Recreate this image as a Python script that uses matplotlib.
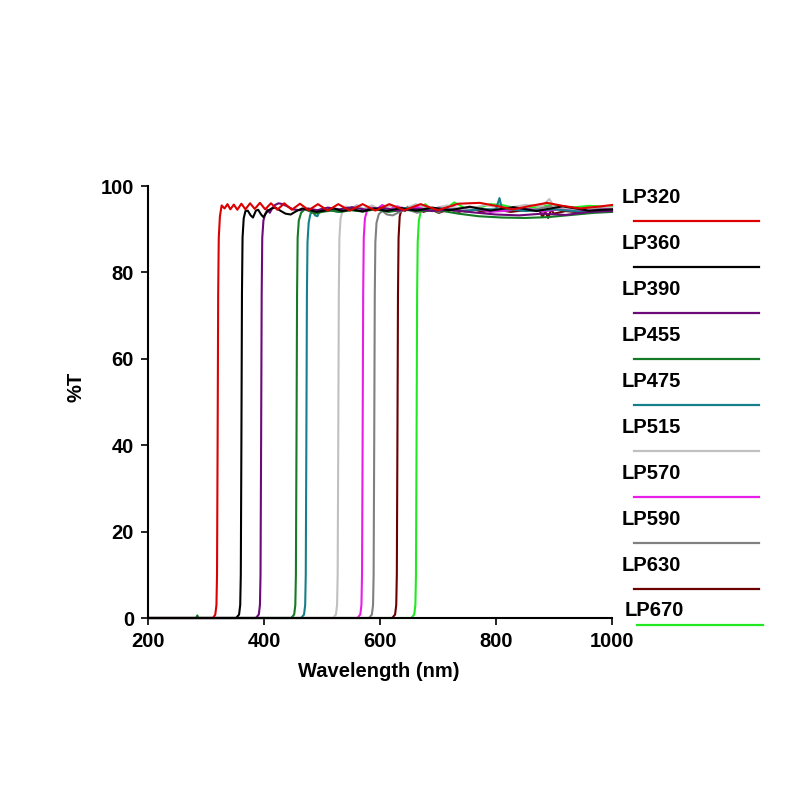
import matplotlib
matplotlib.use("Agg")
import matplotlib.pyplot as plt
from matplotlib.lines import Line2D

plt.rcParams['font.family'] = ['Liberation Sans', 'DejaVu Sans']
plt.rcParams['font.weight'] = 'bold'

# Curvas de transmision (nm, %T)
lp320 = [(200, 0), (312, 0), (316, 0.8), (318, 3), (319, 10), (320, 40), (321, 75), (322, 88), (324, 93),
         (327, 95.5), (332, 94.8), (337, 95.8), (342, 94.6), (348, 95.7), (354, 94.5), (361, 95.9), (368, 94.6),
         (376, 96), (384, 94.7), (393, 96.1), (402, 94.6), (412, 96), (423, 94.5), (435, 96), (448, 94.5),
         (462, 95.9), (477, 94.4), (493, 95.8), (510, 94.3), (528, 95.8), (548, 94.3), (570, 95.8), (592, 94.3),
         (616, 95.8), (642, 94.4), (670, 95.8), (700, 94.4), (735, 95.9), (772, 96.1), (800, 95.4), (829, 94.6),
         (860, 95.4), (888, 96.1), (915, 95.4), (945, 94.8), (975, 95.2), (1000, 95.6)]
lp360 = [(200, 0), (352, 0), (357, 0.8), (359, 3), (360, 10), (361, 40), (362, 75), (363, 88), (365, 92.5),
         (368, 94.2), (372, 94.3), (377, 93.2), (381, 92.7), (386, 94.3), (390, 94.5), (395, 93.4), (399, 92.8),
         (406, 94.2), (413, 94.8), (420, 95), (428, 94.3), (437, 93.6), (446, 93.4), (456, 94.2), (466, 94.8),
         (478, 94.5), (490, 94), (504, 94.3), (520, 94.8), (535, 94.2), (552, 94.6), (570, 94.1), (590, 94.8),
         (612, 94.2), (636, 94.9), (662, 94.3), (690, 95), (720, 94.4), (755, 95.2), (790, 94.3), (830, 95.1),
         (870, 94.2), (915, 95.3), (960, 94.3), (1000, 94.6)]
lp390 = [(200, 0), (386, 0), (391, 0.8), (393, 3), (394, 10), (395, 40), (396, 75), (397, 88), (399, 92),
         (402, 93.5), (406, 94.5), (410, 93.8), (414, 94.8), (419, 95.6), (425, 96), (432, 95.8), (440, 95.3),
         (450, 94.6), (462, 94.4), (476, 94.8), (492, 94.4), (510, 95), (530, 94.6), (552, 95.1), (576, 94.5),
         (602, 95), (630, 94.3), (660, 94.7), (690, 94.2), (720, 94.5), (760, 93.9), (800, 93.4), (840, 93.2),
         (880, 93.6), (920, 93.3), (960, 94), (1000, 94.2)]
lp455 = [(200, 0), (283, 0), (285, 0.6), (287, 0), (447, 0), (452, 0.8), (454, 3), (455, 10), (456, 40),
         (457, 75), (458, 88), (460, 92), (464, 93.8), (470, 94.6), (478, 94.2), (488, 93.6), (500, 94),
         (515, 94.3), (532, 94), (550, 94.4), (570, 94.1), (592, 94.6), (615, 94), (640, 94.5), (668, 94.2),
         (700, 94.4), (735, 93.6), (770, 93), (810, 92.7), (850, 92.6), (890, 92.8), (930, 93.3), (970, 93.8),
         (1000, 94)]
lp475 = [(200, 0), (464, 0), (469, 0.8), (471, 3), (472, 10), (473, 40), (474, 75), (475, 87), (477, 91.5),
         (480, 93.5), (484, 94.2), (488, 93.2), (492, 93), (497, 94.5), (502, 94.8), (508, 94.2), (516, 94.4),
         (528, 94), (545, 94.6), (565, 94.2), (590, 94.8), (615, 94.3), (645, 94.9), (675, 94.4), (705, 94.8),
         (740, 94.2), (775, 94.6), (800, 94.6), (806, 97.2), (810, 94.8), (850, 94.2), (900, 94.6), (950, 94),
         (1000, 94.4)]
lp515 = [(200, 0), (519, 0), (524, 0.8), (526, 3), (527, 10), (528, 40), (529, 75), (530, 88), (532, 92.5),
         (536, 94.5), (542, 95.3), (550, 94.6), (560, 95.6), (572, 94.7), (586, 95.5), (602, 94.4), (620, 95.5),
         (640, 94.6), (662, 95.8), (688, 94.5), (716, 95.5), (748, 94.5), (780, 95.6), (815, 94.8), (850, 95.6),
         (880, 95.4), (892, 97), (900, 95.2), (940, 94.6), (980, 95.3), (1000, 95)]
lp570 = [(200, 0), (561, 0), (566, 0.8), (568, 3), (569, 10), (570, 40), (571, 75), (572, 88), (574, 92.5),
         (578, 94.5), (585, 95.3), (594, 94.6), (604, 95.6), (616, 94.6), (630, 95.3), (646, 94.4), (664, 95.2),
         (684, 94.4), (706, 95.2), (730, 94.2), (758, 95), (790, 94), (820, 94.3), (850, 94.8), (880, 94.1),
         (910, 94.6), (950, 94.2), (1000, 94.7)]
lp590 = [(200, 0), (581, 0), (586, 0.8), (588, 3), (589, 10), (590, 40), (591, 75), (592, 87), (594, 91.5),
         (598, 93.5), (604, 94.2), (612, 93.4), (622, 93.2), (634, 94), (648, 94.6), (664, 93.8), (682, 94.6),
         (702, 94), (724, 94.8), (748, 94), (774, 94.8), (802, 94.3), (832, 95), (862, 94.5), (895, 95.3),
         (930, 94.6), (965, 95), (1000, 94.8)]
lp630 = [(200, 0), (621, 0), (626, 0.8), (628, 3), (629, 10), (630, 40), (631, 75), (632, 88), (634, 93),
         (638, 95), (643, 94.2), (648, 95.2), (655, 94.3), (664, 95), (675, 94), (688, 94.6), (702, 93.8),
         (718, 94.6), (736, 94), (756, 94.8), (778, 94), (800, 94.6), (825, 94), (850, 94.4), (875, 94.4),
         (880, 92.8), (885, 94), (890, 92.6), (895, 94.5), (900, 93.6), (920, 94.2), (950, 93.8), (975, 94.4),
         (1000, 94.2)]
lp670 = [(200, 0), (654, 0), (659, 0.8), (661, 3), (662, 10), (663, 40), (664, 75), (665, 87), (667, 92),
         (671, 94.5), (678, 95.8), (688, 94.6), (700, 93.8), (714, 94.8), (728, 96.2), (742, 95.2), (756, 94.2),
         (772, 95), (790, 95.8), (810, 95.6), (830, 95), (850, 94.6), (875, 95.4), (900, 95.6), (930, 95),
         (960, 95.4), (1000, 95.2)]

etiquetas = ["LP320", "LP360", "LP390", "LP455", "LP475", "LP515", "LP570", "LP590", "LP630", "LP670"]
curvas = [lp320, lp360, lp390, lp455, lp475, lp515, lp570, lp590, lp630, lp670]
colores = ['#dd0000', '#000000', '#6b0a78', '#157a25', '#16808a',
           '#c0c0c0', '#e81ee8', '#808080', '#6b0000', '#22e822']
xticks = [200, 400, 600, 800, 1000]
yticks = [0, 20, 40, 60, 80, 100]

fig = plt.figure(figsize=(8, 8), dpi=100)
ax = fig.add_axes([0.185, 0.2275, 0.58, 0.54])

# dibujar al reves para que LP320 quede encima
for curva, color in reversed(list(zip(curvas, colores))):
    nm, t = zip(*curva)
    ax.plot(nm, t, color=color, lw=1.5, clip_on=False)

ax.set_xlim(200, 1000)
ax.set_ylim(0, 100)
ax.set_xticks(xticks)
ax.set_yticks(yticks)
ax.spines['top'].set_visible(False)
ax.spines['right'].set_visible(False)
for s in ['left', 'bottom']:
    ax.spines[s].set_linewidth(1.5)
ax.tick_params(axis='both', direction='out', length=5, width=1.2, labelsize=14.5, pad=5)
ax.set_xlabel('Wavelength (nm)', fontsize=14.5, fontweight='bold')
ax.set_ylabel('%T', fontsize=14.5, fontweight='bold')
ax.xaxis.set_label_coords(0.498, -0.102)
ax.yaxis.set_label_coords(-0.135, 0.535)

# leyenda a mano: texto arriba, linea debajo
for i, (lab, color) in enumerate(zip(etiquetas, colores)):
    ty = 197.5 + 46 * i
    ly = 220.7 + 46 * i
    x0, x1, tx = 634, 759, 622
    if i == 9:
        ty, ly, x0, x1, tx = 610, 625, 637, 763, 625
    fig.text(tx / 800, 1 - ty / 800, lab, fontsize=14.5, fontweight='bold', va='center', ha='left')
    fig.add_artist(Line2D([x0 / 800, x1 / 800], [1 - ly / 800, 1 - ly / 800], color=color, lw=1.6))

fig.savefig('out.png', dpi=100)
